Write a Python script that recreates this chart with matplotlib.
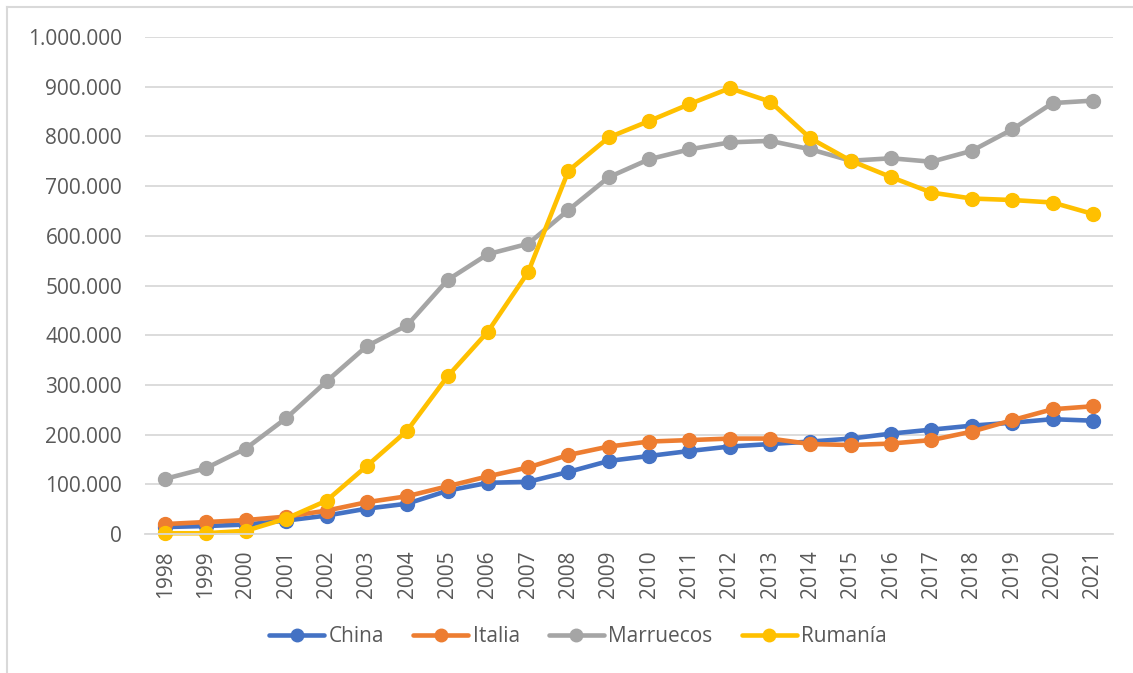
import matplotlib
matplotlib.use("Agg")
import matplotlib.pyplot as plt
from matplotlib.lines import Line2D
from matplotlib.ticker import FuncFormatter

years = [str(y) for y in range(1998, 2022)]
china = [14000, 16000, 19000, 27000, 37000, 51000, 61000, 87000, 103000, 105000, 125000,
         147000, 157000, 167000, 176000, 181000, 186000, 192000, 202000, 210000, 218000,
         224000, 231000, 228000]
italia = [20000, 24000, 28000, 35000, 47000, 64000, 76000, 96000, 116000, 134000, 159000,
          176000, 186000, 189000, 192000, 192000, 181000, 179000, 182000, 189000, 206000,
          229000, 251000, 257000]
marruecos = [111000, 132000, 172000, 233000, 307000, 378000, 420000, 511000, 563000, 584000,
             652000, 718000, 754000, 774000, 788000, 791000, 774000, 751000, 756000, 749000,
             771000, 814000, 867000, 872000]
rumania = [1500, 1500, 6500, 31000, 67000, 137000, 208000, 317000, 407000, 527000, 731000,
           798000, 831000, 865000, 897000, 870000, 796000, 751000, 718000, 687000, 675000,
           672000, 667000, 644000]
series_names = ["China", "Italia", "Marruecos", "Rumanía"]
colors = ["#4472C4", "#ED7D31", "#A5A5A5", "#FFC000"]

plt.rcParams['font.family'] = ['Open Sans', 'DejaVu Sans']
W, H = 1133, 673
fig = plt.figure(figsize=(W / 100, H / 100), dpi=100)
ax = fig.add_axes([145 / W, (H - 534) / H, 968 / W, 497 / H])

x = list(range(len(years)))
for name, vals, c in zip(series_names, [china, italia, marruecos, rumania], colors):
    ax.plot(x, vals, color=c, lw=3.3, marker='o', ms=10, label=name,
            solid_capstyle='round', solid_joinstyle='round', clip_on=False)

ax.set_xlim(-0.5, len(years) - 0.5)
ax.set_ylim(0, 1000000)
ax.set_yticks(range(0, 1000001, 100000))
ax.yaxis.set_major_formatter(FuncFormatter(lambda v, p: f"{int(v):,}".replace(",", ".")))
ax.set_xticks(x)
ax.set_xticklabels(years, rotation=90)
ax.grid(axis='y', color='#D9D9D9', lw=1.3)
ax.set_axisbelow(True)
for s in ['top', 'right', 'left']:
    ax.spines[s].set_visible(False)
ax.spines['bottom'].set_color('#D9D9D9')
ax.spines['bottom'].set_linewidth(1.3)
ax.tick_params(axis='both', length=0, labelsize=15, labelcolor='#595959')
ax.tick_params(axis='y', pad=16.5)
ax.tick_params(axis='x', pad=12)

leg = fig.legend(loc='center', bbox_to_anchor=(578 / W, (H - 637) / H), ncol=4, frameon=False,
                 fontsize=15, labelcolor='#595959', handlelength=2.65, handletextpad=0.2,
                 columnspacing=1.4, markerscale=0.9)

fig.add_artist(Line2D([7 / W, 7 / W], [0, (H - 7) / H], color='#D9D9D9', lw=1.5))
fig.add_artist(Line2D([7 / W, 1], [(H - 7) / H, (H - 7) / H], color='#D9D9D9', lw=1.5))

fig.savefig("out.png", dpi=100, facecolor='white')
